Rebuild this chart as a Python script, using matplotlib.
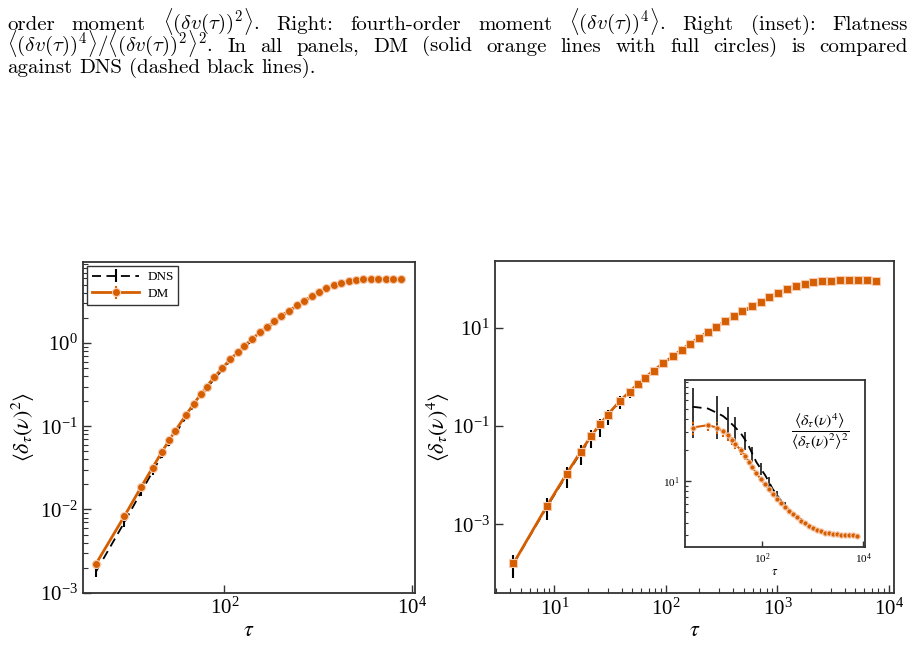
import matplotlib
matplotlib.use('Agg')
import matplotlib.pyplot as plt
from matplotlib.ticker import FixedLocator, NullLocator, LogLocator

plt.rcParams['font.family'] = 'serif'
plt.rcParams['font.serif'] = ['Liberation Serif', 'DejaVu Serif']
plt.rcParams['mathtext.fontset'] = 'stix'

# time lags
tau = [4.3, 8.6, 12.9, 17.2, 21.5, 25.8, 30.1, 38.7, 47.3, 55.9, 64.5, 77.4, 94.6,
       116, 138, 163, 198, 237, 284, 340, 404, 486, 589, 706, 847, 1016, 1217,
       1462, 1750, 2095, 2520, 3015, 3630, 4340, 5225, 6290, 7570]

# second order moment
m2_dm = [2.23e-3, 8.3e-3, 0.0184, 0.0319, 0.0488, 0.0679, 0.0887, 0.1355, 0.187,
         0.242, 0.299, 0.387, 0.497, 0.643, 0.773, 0.929, 1.117, 1.343, 1.556,
         1.82, 2.13, 2.44, 2.83, 3.22, 3.66, 4.09, 4.53, 4.97, 5.25, 5.50, 5.70,
         5.86, 5.92, 5.92, 5.92, 5.92, 5.81]
m2_dm_err = [1.5e-4, 4e-4, 8e-4, 1.2e-3, 1.6e-3, 2e-3, 2.5e-3, 3.5e-3, 4.5e-3,
             5.5e-3, 6.5e-3, 8e-3, 0.01, 0.012, 0.014, 0.016, 0.018, 0.02, 0.022,
             0.025, 0.028, 0.03, 0.033, 0.036, 0.04, 0.043, 0.046, 0.05, 0.05,
             0.05, 0.05, 0.05, 0.05, 0.05, 0.05, 0.05, 0.05]
m2_dns = [1.8e-3, 7.0e-3, 0.0160, 0.0285, 0.0445, 0.062, 0.082, 0.126, 0.176,
          0.228, 0.283, 0.368, 0.473, 0.615, 0.742, 0.893, 1.075, 1.295, 1.50,
          1.76, 2.06, 2.37, 2.75, 3.14, 3.58, 4.01, 4.46, 4.90, 5.20, 5.46, 5.67,
          5.83, 5.90, 5.91, 5.91, 5.90, 5.78]
m2_dns_err = [2.5e-4, 8e-4, 1.5e-3, 2.2e-3, 3e-3, 3.5e-3, 4e-3, 5e-3, 6e-3,
              7e-3, 8e-3, 9e-3, 0.011, 0.013, 0.015, 0.017, 0.019, 0.022, 0.025,
              0.028, 0.03, 0.033, 0.036, 0.04, 0.045, 0.05, 0.055, 0.06, 0.06,
              0.06, 0.06, 0.06, 0.06, 0.06, 0.06, 0.06, 0.06]

# fourth order moment
m4_dm = [1.62e-4, 2.41e-3, 0.0108, 0.0302, 0.0638, 0.110, 0.171, 0.323, 0.50,
         0.716, 0.948, 1.336, 1.88, 2.65, 3.57, 4.66, 6.26, 8.17, 10.5, 13.4,
         17.3, 21.5, 27.1, 33.8, 41.4, 49.9, 60.1, 70.3, 77.3, 83.4, 87.5, 90.2,
         91.6, 93.1, 93.1, 91.6, 88.9]
m4_dm_err = [1.5e-5, 2e-4, 9e-4, 2.5e-3, 5e-3, 8e-3, 0.012, 0.022, 0.032, 0.045,
             0.058, 0.08, 0.11, 0.15, 0.2, 0.25, 0.33, 0.42, 0.53, 0.66, 0.85,
             1.05, 1.3, 1.6, 1.95, 2.3, 2.8, 3.2, 3.5, 3.8, 4.0, 4.1, 4.2, 4.2,
             4.2, 4.2, 4.1]
m4_dns = [1.6e-4, 2.3e-3, 0.0102, 0.0287, 0.059, 0.099, 0.159, 0.31, 0.475,
          0.69, 0.91, 1.29, 1.82, 2.57, 3.46, 4.52, 6.05, 7.9, 10.1, 12.9, 16.6,
          20.6, 26.0, 32.4, 39.7, 47.9, 57.7, 67.5, 74.2, 80.1, 84.0, 86.6, 88.0,
          89.4, 89.4, 87.9, 85.3]
m4_dns_err = [8e-5, 1.08e-3, 4.8e-3, 0.0125, 0.024, 0.038, 0.053, 0.09, 0.11,
              0.13, 0.15, 0.19, 0.25, 0.32, 0.4, 0.5, 0.62, 0.78, 0.95, 1.15,
              1.4, 1.7, 2.1, 2.5, 3.0, 3.5, 4.1, 4.7, 5.1, 5.4, 5.6, 5.8, 5.9,
              6.0, 6.0, 5.9, 5.7]

# flatness
flat_dm = [32.8, 34.6, 32.8, 30.3, 27.7, 25.1, 22.6, 19.8, 17.3, 15.3, 13.7,
           11.95, 10.5, 9.3, 8.4, 7.5, 6.8, 6.2, 5.7, 5.2, 4.8, 4.5, 4.16, 3.93,
           3.7, 3.54, 3.41, 3.3, 3.2, 3.14, 3.09, 3.07, 3.04, 3.02, 3.0, 3.0, 2.98]
flat_dm_err = [4.8, 4.5, 4.2, 3.8, 3.3, 2.8, 2.3, 1.8, 1.4, 1.1, 0.9, 0.7, 0.55,
               0.45, 0.38, 0.3, 0.25, 0.2, 0.17, 0.14, 0.12, 0.1, 0.09, 0.08,
               0.07, 0.06, 0.05, 0.05, 0.04, 0.04, 0.04, 0.04, 0.04, 0.04, 0.04,
               0.04, 0.04]
flat_dns = [52.0, 50.0, 45.5, 42.3, 38.6, 35.3, 32.8, 28.7, 24.8, 21.4, 18.4,
            15.3, 13.2, 11.4, 9.8, 8.4, 7.4, 6.5, 5.8, 5.3, 4.8, 4.5, 4.2, 3.9,
            3.7, 3.5, 3.4, 3.3, 3.2, 3.14, 3.09, 3.06, 3.04, 3.02, 3.0, 3.0, 2.98]
flat_dns_err = [26.0, 22.0, 20.0, 16.0, 13.0, 10.0, 8.5, 6.5, 4.7, 3.8, 3.0,
                2.3, 1.8, 1.4, 1.1, 0.85, 0.7, 0.55, 0.45, 0.38, 0.3, 0.25, 0.2,
                0.17, 0.14, 0.12, 0.1, 0.09, 0.08, 0.07, 0.06, 0.06, 0.05, 0.05,
                0.05, 0.05, 0.05]

# caption, one list of words per line (last line is not justified)
mom2 = r'$\langle(\delta v(\tau))^2\rangle$'
mom4 = r'$\langle(\delta v(\tau))^4\rangle$'
flat = r'$\langle(\delta v(\tau))^4\rangle/\langle(\delta v(\tau))^2\rangle^2$'
caption_words = [
    ['order', 'moment', mom2 + '.', 'Right:', 'fourth-order', 'moment',
     mom4 + '.', 'Right', '(inset):', 'Flatness'],
    [flat + '.', 'In', 'all', 'panels,', 'DM', '(solid', 'orange', 'lines',
     'with', 'full', 'circles)', 'is', 'compared'],
    ['against', 'DNS', '(dashed', 'black', 'lines).'],
]

orange = '#d55e00'
edge = '#f8cbb0'
spine_c = '#333333'


def style_axes(ax):
    for s in ax.spines.values():
        s.set_color(spine_c)
        s.set_linewidth(1.3)
    ax.tick_params(which='both', direction='in', top=False, right=False,
                   color=spine_c)
    ax.tick_params(which='major', length=6, width=1.0)
    ax.tick_params(which='minor', length=3.5, width=0.8)


def plot_pair(ax, y_dns, e_dns, y_dm, e_dm, marker, ms, lw, every=1, elw=1.5):
    dns = ax.errorbar(tau, y_dns, yerr=e_dns, color='k', ls='--', dashes=(5, 3),
                      lw=1.3, elinewidth=elw, capsize=0, errorevery=every,
                      label='DNS', zorder=2)
    dm = ax.errorbar(tau, y_dm, yerr=e_dm, color=orange, ls='-', lw=lw,
                     marker=marker, ms=ms, mec=edge, mew=0.8, elinewidth=1.5,
                     capsize=0, label='DM', zorder=3)
    dm[2][0].set_linestyle(':')
    return dns, dm


W, H = 915, 646
fig = plt.figure(figsize=(W / 100, H / 100), dpi=100)
renderer = fig.canvas.get_renderer()

# caption text above the panels, justified word by word
cap = dict(family='cmr10', math_fontfamily='cm', fontsize=15,
           va='baseline', ha='left')
x_left, x_right = 7, 908
baselines = [29.5, 51.5, 73]
for k, (words, yb) in enumerate(zip(caption_words, baselines)):
    texts = [fig.text(0, 1 - yb / H, w, **cap) for w in words]
    widths = [t.get_window_extent(renderer).width for t in texts]
    if k < len(caption_words) - 1:
        gap = (x_right - x_left - sum(widths)) / (len(words) - 1)
    else:
        gap = cap['fontsize'] * 100 / 72 * 0.333
    x = x_left
    for t, w in zip(texts, widths):
        t.set_x(x / W)
        x += w + gap

# left panel: second order moment
ax1 = fig.add_axes([0.0904, 0.0825, 0.3632, 0.5124])
plot_pair(ax1, m2_dns, m2_dns_err, m2_dm, m2_dm_err, 'o', 5.8, 2.0)
ax1.set_xscale('log')
ax1.set_yscale('log')
ax1.set_xlim(3.1, 1.07e4)
ax1.set_ylim(1e-3, 9.5)
ax1.xaxis.set_major_locator(FixedLocator([1e2, 1e4]))
ax1.xaxis.set_minor_locator(NullLocator())
style_axes(ax1)
ax1.tick_params(labelsize=15)
ax1.set_xlabel(r'$\tau$', fontsize=16, labelpad=2)
ax1.set_ylabel(r'$\langle\delta_\tau(\nu)^2\rangle$', fontsize=16, labelpad=2)
ax1.legend(loc='upper left', fancybox=False, edgecolor=spine_c, framealpha=1,
           fontsize=9.5, handlelength=3.6, borderaxespad=0.35,
           borderpad=0.35, labelspacing=0.35, handletextpad=0.6)

# right panel: fourth order moment
ax2 = fig.add_axes([0.5407, 0.0816, 0.4364, 0.5149])
plot_pair(ax2, m4_dns, m4_dns_err, m4_dm, m4_dm_err, 's', 5.5, 2.0)
ax2.set_xscale('log')
ax2.set_yscale('log')
ax2.set_xlim(2.92, 1.11e4)
ax2.set_ylim(4e-5, 229)
ax2.yaxis.set_major_locator(FixedLocator([1e-3, 1e-1, 1e1]))
ax2.yaxis.set_minor_locator(NullLocator())
style_axes(ax2)
ax2.tick_params(labelsize=15)
ax2.set_xlabel(r'$\tau$', fontsize=16, labelpad=2)
ax2.set_ylabel(r'$\langle\delta_\tau(\nu)^4\rangle$', fontsize=16, labelpad=0)

# inset: flatness
ax3 = fig.add_axes([0.7486, 0.154, 0.1967, 0.2577])
plot_pair(ax3, flat_dns, flat_dns_err, flat_dm, flat_dm_err, 'o', 3.8, 1.5,
          every=2, elw=1.1)
ax3.set_xscale('log')
ax3.set_yscale('log')
ax3.set_xlim(3.05, 1.07e4)
ax3.set_ylim(2.35, 94)
ax3.xaxis.set_major_locator(FixedLocator([1e2, 1e4]))
ax3.xaxis.set_minor_locator(NullLocator())
ax3.yaxis.set_major_locator(FixedLocator([1e1]))
ax3.yaxis.set_minor_locator(LogLocator(subs=range(2, 10)))
ax3.yaxis.set_minor_formatter(plt.NullFormatter())
style_axes(ax3)
ax3.tick_params(labelsize=8)
ax3.tick_params(which='major', length=4)
ax3.tick_params(which='minor', length=2.5)
ax3.set_xlabel(r'$\tau$', fontsize=9, labelpad=0)
ax3.text(0.75, 0.69,
         r'$\dfrac{\langle\delta_\tau(\nu)^4\rangle}{\langle\delta_\tau(\nu)^2\rangle^2}$',
         transform=ax3.transAxes, fontsize=11.5, ha='center', va='center')

fig.savefig('out.png', dpi=100)
